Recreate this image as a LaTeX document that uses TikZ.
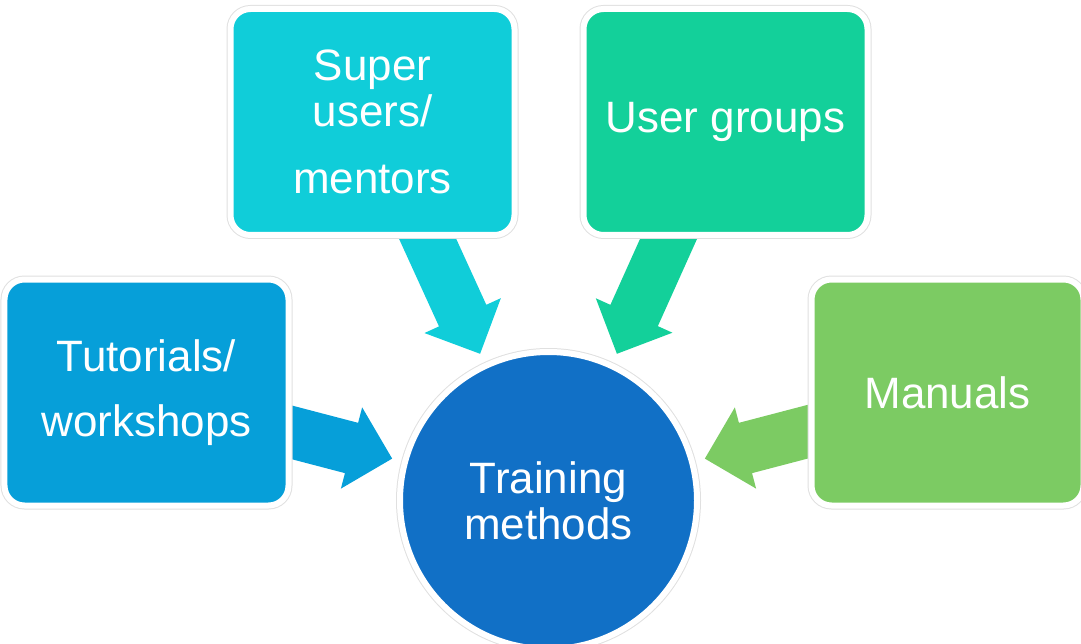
\documentclass[tikz,border=0pt]{standalone}
\usepackage{fontspec}
\setmainfont{Liberation Sans}
\usetikzlibrary{backgrounds,calc}
\definecolor{tutblue}{HTML}{069FD9}
\definecolor{supcyan}{HTML}{10CDD9}
\definecolor{grpgreen}{HTML}{13D09A}
\definecolor{manlime}{HTML}{7CCB63}
\definecolor{trainblue}{HTML}{1170C6}
% fat arrow: colour, tail, tip
\newcommand{\blockarrow}[3]{%
	\fill[#1] ($(#2)!0.52cm!90:(#3)$) -- ($(#3)!0.84cm!(#2)!0.52cm!90:(#3)$) -- ($(#3)!0.84cm!(#2)!0.84cm!90:(#3)$)
		-- (#3) -- ($(#3)!0.84cm!(#2)!0.84cm!-90:(#3)$) -- ($(#3)!0.84cm!(#2)!0.52cm!-90:(#3)$)
		-- ($(#2)!0.52cm!-90:(#3)$) -- cycle;}
\begin{document}
\begin{tikzpicture}[
		box/.style={rounded corners=0.4cm, minimum width=5.68cm, minimum height=4.52cm, outer sep=0pt,
			draw=white, line width=0.12cm, text=white, align=center,
			font=\fontsize{25}{26}\selectfont,
			preaction={draw=black!12, line width=0.16cm}}
	]
		\useasboundingbox (0, 0) rectangle (21.62, -12.88);
		%boxes
		\node[box, fill=tutblue] (tut) at (2.93, -7.85) {Tutorials/\\[0.38cm]workshops};
		\node[box, fill=supcyan] (sup) at (7.45, -2.44) {Super\\users/\\[0.42cm]mentors};
		\node[box, fill=grpgreen] (grp) at (14.51, -2.44) {User groups};
		\node[box, fill=manlime, minimum width=5.44cm] (man) at (18.95, -7.85) {Manuals};
		%centre
		\node[box, circle, minimum size=5.94cm, fill=trainblue] (train) at (10.97, -10.01) {Training\\methods};
		%arrow ends
		\coordinate (tut-a) at ([xshift=-0.42cm, yshift=-0.67cm]tut.east);
		\coordinate (sup-a) at ([xshift=0.88cm, yshift=0.41cm]sup.south);
		\coordinate (grp-a) at ([xshift=-0.92cm, yshift=0.41cm]grp.south);
		\coordinate (man-a) at ([xshift=0.36cm, yshift=-0.67cm]man.west);
		\coordinate (tut-b) at ($(train.center)!1.09!(train.165)$);
		\coordinate (sup-b) at ($(train.center)!1.09!(train.115)$);
		\coordinate (grp-b) at ($(train.center)!1.09!(train.65)$);
		\coordinate (man-b) at ($(train.center)!1.09!(train.15)$);
		%arrows
		\begin{scope}[on background layer]
			\blockarrow{tutblue}{tut-a}{tut-b}
			\blockarrow{supcyan}{sup-a}{sup-b}
			\blockarrow{grpgreen}{grp-a}{grp-b}
			\blockarrow{manlime}{man-a}{man-b}
		\end{scope}
		\end{tikzpicture}
\end{document}
